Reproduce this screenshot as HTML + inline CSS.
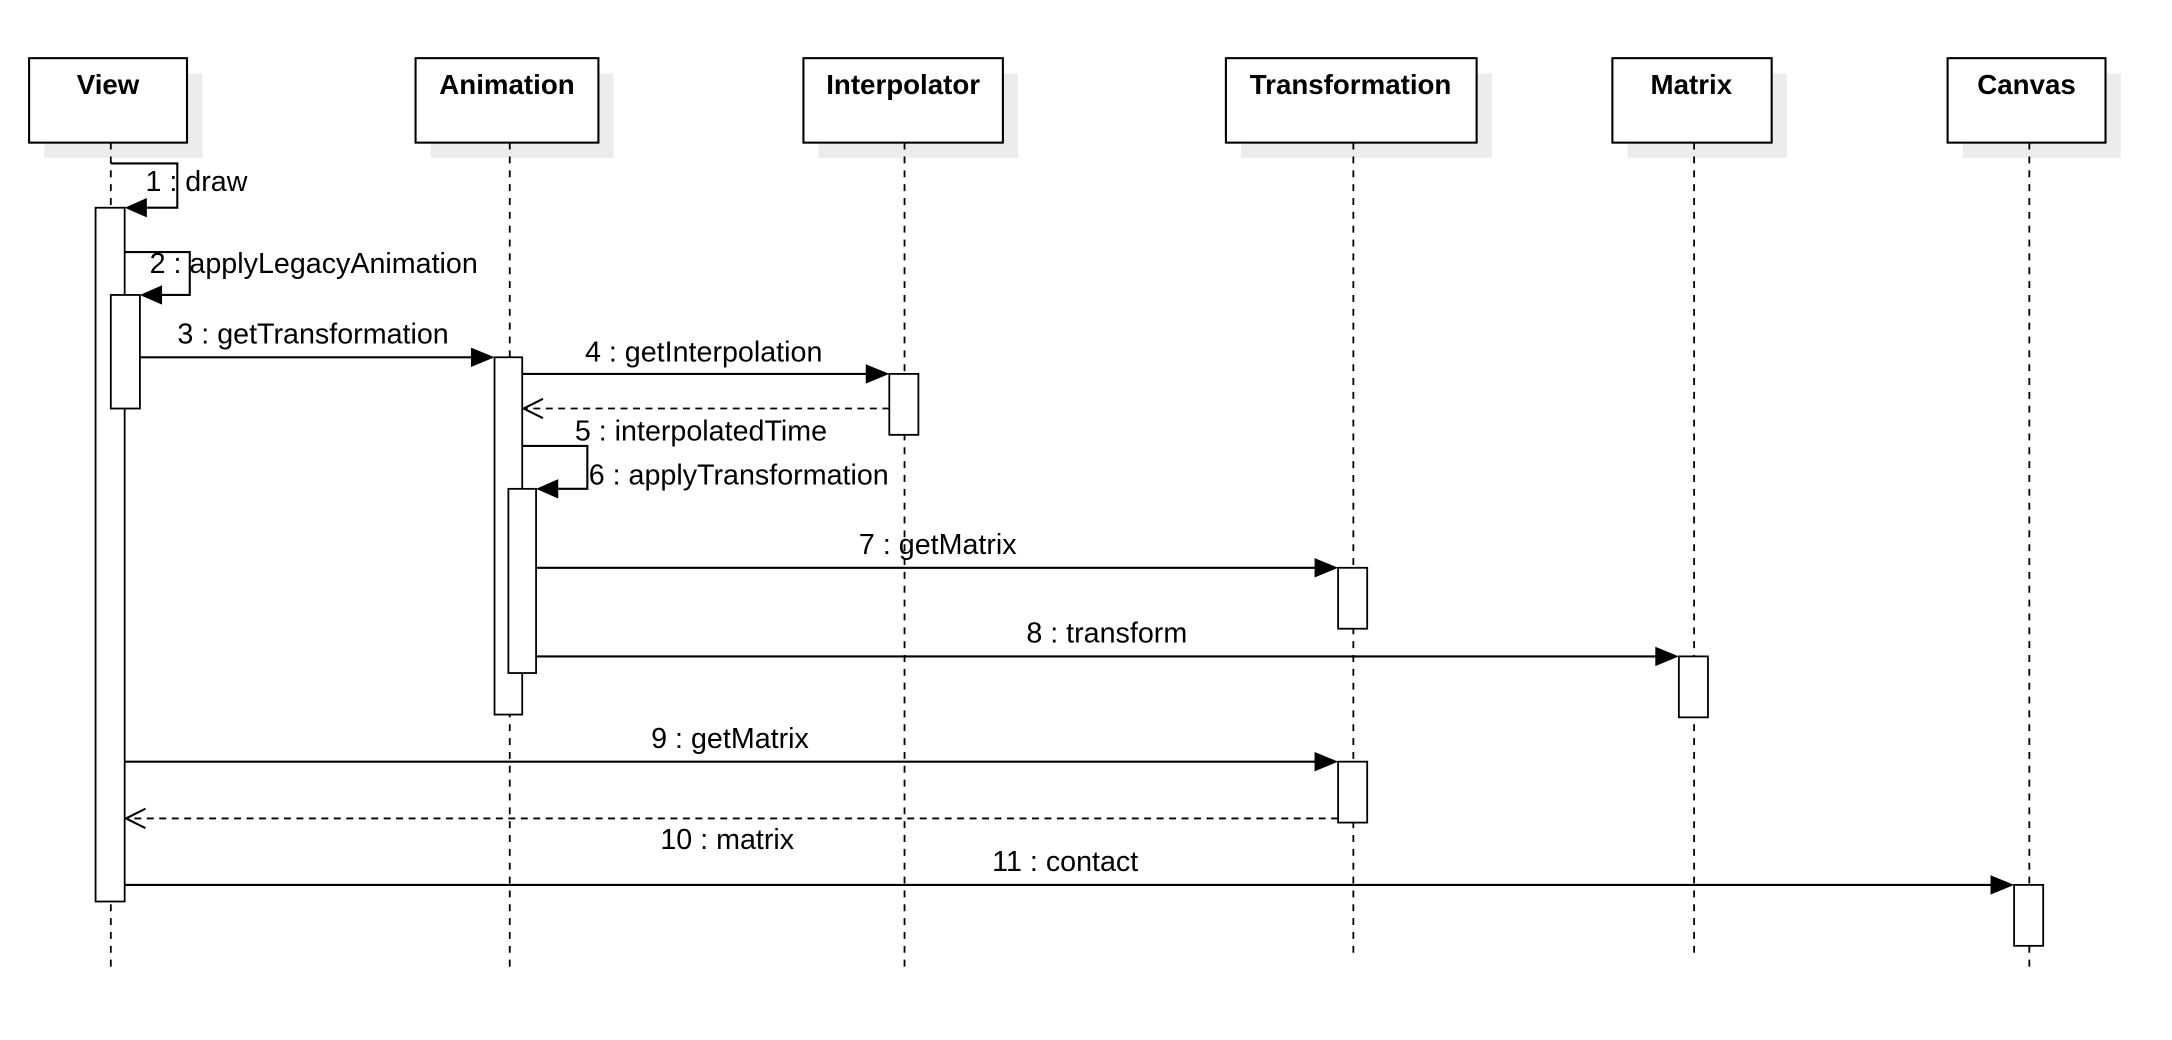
<!DOCTYPE html>
<html><head><meta charset="utf-8"><style>
html,body{margin:0;padding:0;background:#fff;}
svg{display:block}
text{font-family:"Liberation Sans",Arial,sans-serif;fill:#000}
.t{font-weight:bold;font-size:20px;text-anchor:middle}
.l{font-size:20.7px}
.ll{stroke:#000;stroke-width:1.3;stroke-dasharray:5,5;fill:none}
.box{fill:#fff;stroke:#000;stroke-width:1.5}
.sh{fill:#ececec}
.m{stroke:#000;stroke-width:1.5;fill:none}
.d{stroke:#000;stroke-width:1.3;fill:none;stroke-dasharray:5,4}
.act{fill:#fff;stroke:#000;stroke-width:1.3}
</style></head><body>
<svg width="2172" height="1040" viewBox="0 0 1568 751" preserveAspectRatio="none">
<rect class="sh" x="32" y="53" width="114" height="61"/>
<rect class="sh" x="311" y="53" width="132" height="61"/>
<rect class="sh" x="591" y="53" width="144" height="61"/>
<rect class="sh" x="896" y="53" width="181" height="61"/>
<rect class="sh" x="1175" y="53" width="115" height="61"/>
<rect class="sh" x="1417" y="53" width="114" height="61"/>
<line class="ll" x1="80" y1="103" x2="80" y2="702"/>
<line class="ll" x1="368" y1="103" x2="368" y2="702"/>
<line class="ll" x1="653" y1="103" x2="653" y2="702"/>
<line class="ll" x1="977" y1="103" x2="977" y2="690"/>
<line class="ll" x1="1223" y1="103" x2="1223" y2="690"/>
<line class="ll" x1="1465" y1="103" x2="1465" y2="702"/>
<rect class="box" x="21" y="42" width="114" height="61"/>
<rect class="box" x="300" y="42" width="132" height="61"/>
<rect class="box" x="580" y="42" width="144" height="61"/>
<rect class="box" x="885" y="42" width="181" height="61"/>
<rect class="box" x="1164" y="42" width="115" height="61"/>
<rect class="box" x="1406" y="42" width="114" height="61"/>
<text class="t" x="78" y="68">View</text>
<text class="t" x="366" y="68">Animation</text>
<text class="t" x="652" y="68">Interpolator</text>
<text class="t" x="975" y="68">Transformation</text>
<text class="t" x="1221" y="68">Matrix</text>
<text class="t" x="1463" y="68">Canvas</text>
<rect class="act" x="69" y="150" width="21" height="501"/>
<rect class="act" x="80" y="213" width="21" height="82"/>
<rect class="act" x="357" y="258" width="20" height="258"/>
<rect class="act" x="367" y="353" width="20" height="133"/>
<rect class="act" x="642" y="270" width="21" height="44"/>
<rect class="act" x="966" y="410" width="21" height="44"/>
<rect class="act" x="1212" y="474" width="21" height="44"/>
<rect class="act" x="966" y="550" width="21" height="44"/>
<rect class="act" x="1454" y="639" width="21" height="44"/>
<polyline class="m" points="80,118 128,118 128,150 100,150"/>
<polygon points="90,150 106,143 106,157"/>
<text class="l" x="105" y="138">1 : draw</text>
<polyline class="m" points="90,182 137,182 137,213 110,213"/>
<polygon points="101,213 117,206 117,220"/>
<text class="l" x="108" y="197">2 : applyLegacyAnimation</text>
<line class="m" x1="101" y1="258" x2="345" y2="258"/>
<polygon points="357,258 340,251 340,265"/>
<text class="l" x="226" y="248" text-anchor="middle">3 : getTransformation</text>
<line class="m" x1="377" y1="270" x2="630" y2="270"/>
<polygon points="642,270 625,263 625,277"/>
<text class="l" x="508" y="261" text-anchor="middle">4 : getInterpolation</text>
<line class="d" x1="642" y1="295" x2="378" y2="295"/>
<polyline class="m" points="392,288 378,295 392,302"/>
<text class="l" x="415" y="318">5 : interpolatedTime</text>
<polyline class="m" points="377,322 424,322 424,353 396,353"/>
<polygon points="387,353 403,346 403,360"/>
<text class="l" x="425" y="350">6 : applyTransformation</text>
<line class="m" x1="387" y1="410" x2="954" y2="410"/>
<polygon points="966,410 949,403 949,417"/>
<text class="l" x="677" y="400" text-anchor="middle">7 : getMatrix</text>
<line class="m" x1="387" y1="474" x2="1200" y2="474"/>
<polygon points="1212,474 1195,467 1195,481"/>
<text class="l" x="799" y="464" text-anchor="middle">8 : transform</text>
<line class="m" x1="90" y1="550" x2="954" y2="550"/>
<polygon points="966,550 949,543 949,557"/>
<text class="l" x="527" y="540" text-anchor="middle">9 : getMatrix</text>
<line class="d" x1="966" y1="591" x2="91" y2="591"/>
<polyline class="m" points="105,584 91,591 105,598"/>
<text class="l" x="525" y="613" text-anchor="middle">10 : matrix</text>
<line class="m" x1="90" y1="639" x2="1442" y2="639"/>
<polygon points="1454,639 1437,632 1437,646"/>
<text class="l" x="769" y="629" text-anchor="middle">11 : contact</text>
</svg>
</body></html>
